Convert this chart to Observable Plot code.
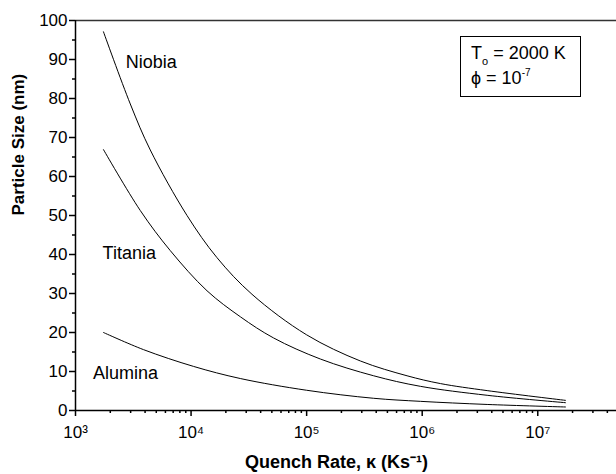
<!DOCTYPE html>
<html><head><meta charset="utf-8">
<script src="https://cdn.jsdelivr.net/npm/d3@7"></script>
<script src="https://cdn.jsdelivr.net/npm/@observablehq/plot@0.6"></script>
<style>
body{margin:0;background:#fff;font-family:"Liberation Sans",Arial,sans-serif;}
#wrap{position:relative;width:616px;height:474px;overflow:hidden;}
#box{position:absolute;left:460px;top:36px;width:121px;height:61px;border:1px solid #000;box-sizing:border-box;font-size:18px;color:#000;line-height:25px;padding:4px 0 0 10px;}
#box sub{font-size:11px;vertical-align:-6px;line-height:0;}
#box sup{font-size:10px;vertical-align:8px;line-height:0;}
</style></head><body><div id="wrap"><div id="box"></div></div><script>
// Quench rate κ (K/s) and particle size (nm)
const niobiaK = [1746, 2979, 4436, 9226, 16750, 33650, 100000, 291700, 739600, 1439000, 3648000, 17380000];
const niobiaD = [97.1, 78.6, 66.8, 50.0, 39.2, 29.8, 19.4, 12.7, 8.9, 6.9, 5.1, 2.6];
const titaniaK = [1746, 3631, 6607, 13740, 26790, 51760, 131500, 380200, 963800, 3648000, 17380000];
const titaniaD = [66.9, 51.3, 41.0, 30.7, 24.0, 18.6, 13.2, 8.9, 6.2, 3.9, 2.0];
const aluminaK = [1746, 3882, 10520, 26670, 100000, 380200, 963800, 3648000, 17380000];
const aluminaD = [20.0, 15.6, 11.3, 8.2, 5.19, 3.13, 2.35, 1.55, 0.9];

const materials = ["Niobia", "Titania", "Alumina"];
const labelK = [4520, 2920, 2710];
const labelD = [89.2, 40.3, 9.6];

const xMajor = [1e3, 1e4, 1e5, 1e6, 1e7];
const yMajor = [0, 10, 20, 30, 40, 50, 60, 70, 80, 90, 100];
const yMinor = [5, 15, 25, 35, 45, 55, 65, 75, 85, 95];

const xMinor = [];
for (let e = 3; e <= 7; e++) for (let m = 2; m <= 9; m++) { const v = m * 10 ** e; if (v < 4.8e7) xMinor.push(v); }

const series = [[niobiaK, niobiaD], [titaniaK, titaniaD], [aluminaK, aluminaD]];
const rows = series.flatMap(([k, d], i) => k.map((v, j) => ({material: materials[i], k: v, d: d[j]})));
const labels = materials.map((m, i) => ({name: m, k: labelK[i], d: labelD[i]}));

const sup = {3: "³", 4: "⁴", 5: "⁵", 6: "⁶", 7: "⁷"};
const font = '"Liberation Sans", Arial, sans-serif';

const chart = Plot.plot({
  width: 616, height: 474,
  marginLeft: 75, marginRight: 0, marginTop: 20, marginBottom: 64,
  style: {fontFamily: font, fontSize: "17px", background: "white", color: "#000", overflow: "visible"},
  x: {type: "log", domain: [1e3, 4.8e7]},
  y: {domain: [0, 100]},
  marks: [
    Plot.axisY({ticks: yMajor, tickSize: 6, tickPadding: 2, label: null, strokeWidth: 1.5, fontSize: 17}),
    Plot.axisY({ticks: yMinor, tickSize: 3, tickFormat: () => "", label: null, strokeWidth: 1.5}),
    Plot.axisX({ticks: xMajor, tickSize: 6, tickPadding: 9, label: null, strokeWidth: 1.5, fontSize: 17,
      tickFormat: d => "10" + sup[Math.round(Math.log10(d))]}),
    Plot.axisX({ticks: xMinor, tickSize: 3, tickFormat: () => "", label: null, strokeWidth: 1.5}),
    Plot.ruleY([0], {strokeWidth: 1.5}),
    Plot.ruleY([100], {strokeWidth: 1.5, stroke: "#333"}),
    Plot.ruleX([1e3], {strokeWidth: 1.5}),
    Plot.line(rows, {x: "k", y: "d", z: "material", curve: "catmull-rom", stroke: "#000", strokeWidth: 1}),
    Plot.text(labels, {x: "k", y: "d", text: "name", fontSize: 18, fill: "#000"}),
    Plot.text(["Particle Size (nm)"], {frameAnchor: "left", dx: -57, rotate: -90, fontSize: 17, fontWeight: "bold", fill: "#000"}),
    Plot.text(["Quench Rate, κ (Ks⁻¹)"], {frameAnchor: "bottom-left", textAnchor: "middle", dx: 261, dy: 57, fontSize: 18, fontWeight: "bold", fill: "#000"})
  ]
});
document.getElementById("wrap").prepend(chart);
document.getElementById("box").innerHTML = 'T<sub>o</sub> = 2000 K<br>ϕ = 10<sup>-7</sup>';
</script></body></html>
